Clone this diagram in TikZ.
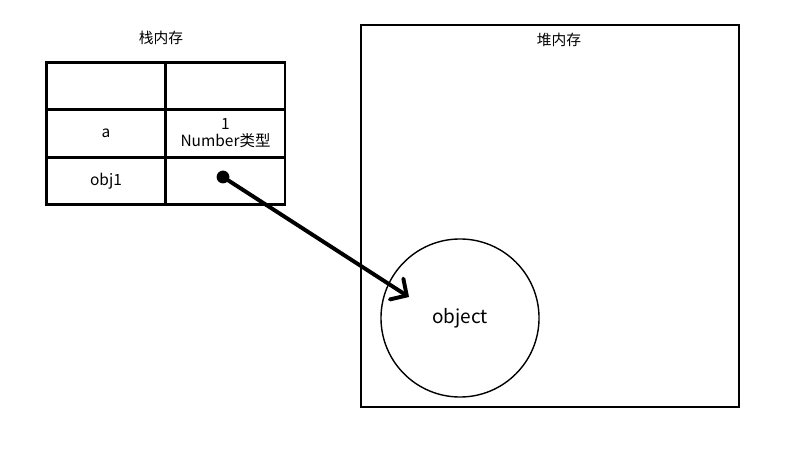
\documentclass[tikz,border=0pt]{standalone}
\usepackage{fontspec}
\setmainfont{Noto Sans CJK SC}
\usetikzlibrary{arrows.meta}
\begin{document}
\begin{tikzpicture}[x=0.025cm,y=-0.025cm,
    cell/.style={draw,line width=2.1pt,minimum width=2.975cm,minimum height=1.19cm,
      inner sep=0pt,align=center,font=\fontsize{11}{12}\selectfont},
    title/.style={font=\fontsize{10.5}{12}\selectfont},
    dot/.style={circle,fill,inner sep=0pt,minimum size=0.32cm},
    ptr/.style={line width=2.8pt,line cap=round,-{Straight Barb[length=0.3cm,width=0.62cm,line cap=round]}}]
  \useasboundingbox (0,0) rectangle (800,457);
  % stack
  \node[title] (stack) at (161,38) {栈内存};
  \node[cell] (k0) at (106,86) {};
  \node[cell] (v0) at (225.5,86) {};
  \node[cell] (k1) at (106,133.5) {a};
  \node[cell] (v1) at (225.5,133.5) {1\\Number类型};
  \node[cell] (k2) at (106,181) {obj1};
  \node[cell] (v2) at (225.5,181) {};
  % heap
  \node[draw,line width=1.4pt,minimum width=9.45cm,minimum height=9.55cm,inner sep=0pt] (heap) at (550,216) {};
  \node[title] (heaptitle) at (559,40) {堆内存};
  \node[draw,circle,line width=1pt,minimum size=3.95cm,inner sep=0pt,
    font=\fontsize{13.5}{15}\selectfont] (obj) at (460,318) {object};
  % reference
  \node[dot] (ref) at (223,177) {};
  \coordinate (tip) at (409,297);
  \draw[ptr] (ref.center) -- (tip);
\end{tikzpicture}
\end{document}
